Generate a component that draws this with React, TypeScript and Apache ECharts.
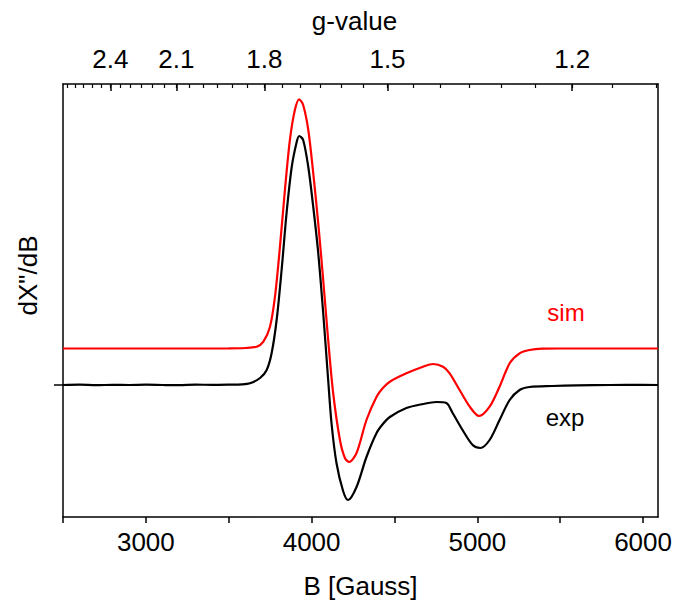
import React, { useEffect, useRef } from "react";
import * as echarts from "echarts";

// g = K / B  (K = h*nu/muB in Gauss)
const G_CONST = 6687;
const B_MIN = 2500;
const B_MAX = 6090;

const B_TICKS = [2500, 3000, 3500, 4000, 4500, 5000, 5500, 6000];
const B_LABELS = [3000, 4000, 5000, 6000];
const G_MAJOR = [2.4, 2.1, 1.8, 1.5, 1.2];
const G_MINOR = [2.65, 2.6, 2.55, 2.5, 2.45, 2.4, 2.35, 2.3, 2.25, 2.2, 2.15, 2.1, 2.05, 2.0, 1.95, 1.9, 1.85, 1.8, 1.75, 1.7, 1.65, 1.6, 1.55, 1.5, 1.45, 1.4, 1.35, 1.3, 1.25, 1.2, 1.15, 1.1];

const B_EXP = [2500, 2600, 2700, 2800, 2900, 3000, 3100, 3200, 3300, 3400, 3500, 3580, 3628, 3689, 3729, 3759, 3789, 3819, 3849, 3880, 3910, 3925, 3949, 3980, 4010, 4040, 4070, 4100, 4120, 4150, 4190, 4220, 4271, 4331, 4392, 4430, 4472, 4572, 4672, 4753, 4813, 4851, 4911, 4972, 5018, 5074, 5134, 5195, 5255, 5315, 5451, 5600, 5800, 6000, 6090];
const Y_EXP = [0, 0.3, -0.2, 0.2, 0, 0.3, 0, -0.2, 0.4, 0.1, 0.3, 0.6, 1.7, 7, 15, 32, 65, 115, 172, 218, 243, 249, 245, 218, 178, 132, 72, 5, -38, -78, -106, -115, -102, -72, -48, -39, -32, -23, -19, -17, -18, -28, -45, -60, -63, -55, -35, -15, -5, -2, -1, -0.4, 0, 0.2, 0];

const B_SIM = [2500, 3000, 3500, 3600, 3669, 3709, 3749, 3779, 3809, 3839, 3869, 3899, 3925, 3949, 3980, 4010, 4040, 4070, 4100, 4130, 4171, 4201, 4227, 4271, 4331, 4392, 4430, 4472, 4572, 4672, 4733, 4793, 4833, 4893, 4954, 5010, 5074, 5134, 5195, 5255, 5315, 5393, 5500, 6090];
const Y_SIM = [36.5, 36.5, 36.6, 37, 38.3, 43.3, 58.3, 88.3, 138.3, 195, 245, 275, 285.7, 280, 255, 211.7, 161.7, 105, 45, -8, -55, -73, -77, -68, -35, -11.7, -3, 3.3, 11.7, 18.3, 21, 18.3, 11.7, -5, -21.7, -31, -21.7, -1.7, 21.7, 31.7, 35, 36.3, 36.5, 36.5];

const FONT = "'Liberation Sans', Arial, sans-serif";

export default function App() {
  const ref = useRef<HTMLDivElement>(null);
  useEffect(() => {
    document.body.style.margin = "0";
    const chart = echarts.init(ref.current!, null, { renderer: "svg" });
    const axisLine = { show: true, onZero: false, lineStyle: { color: "#000", width: 1.5 } };
    const gMajorB = G_MAJOR.map((g) => G_CONST / g);
    const gMinorB = G_MINOR.map((g) => G_CONST / g);
    const tickOnlyAxis = (position: string, inside: boolean, length: number, values: number[], width: number) => ({
      type: "value",
      position,
      min: B_MIN,
      max: B_MAX,
      axisLine: { show: false, onZero: false },
      axisTick: { show: true, inside, length, customValues: values, lineStyle: { color: "#000", width } },
      axisLabel: { show: false },
      splitLine: { show: false },
    });
    chart.setOption({
      animation: false,
      backgroundColor: "#fff",
      grid: { left: 63, right: 18, top: 84, bottom: 87 },
      xAxis: [
        {
          type: "value",
          position: "bottom",
          min: B_MIN,
          max: B_MAX,
          axisLine,
          axisTick: { show: false },
          axisLabel: {
            show: true,
            customValues: B_LABELS,
            margin: 12,
            color: "#000",
            fontSize: 26,
            fontFamily: FONT,
            formatter: (v: number) => String(v),
          },
          splitLine: { show: false },
          name: "B [Gauss]",
          nameLocation: "middle",
          nameGap: 56,
          nameTextStyle: { color: "#000", fontSize: 26, fontFamily: FONT },
        },
        {
          type: "value",
          position: "top",
          min: B_MIN,
          max: B_MAX,
          axisLine,
          axisTick: { show: false },
          axisLabel: {
            show: true,
            customValues: gMajorB,
            margin: 12,
            color: "#000",
            fontSize: 26,
            fontFamily: FONT,
            formatter: (v: number) => (G_CONST / v).toFixed(1),
          },
          splitLine: { show: false },
          name: "g-value",
          nameLocation: "middle",
          nameGap: 50,
          nameTextStyle: { color: "#000", fontSize: 26, fontFamily: FONT, padding: [0, 12, 0, 0] },
        },
        tickOnlyAxis("top", true, 4, gMinorB, 1.2),
        tickOnlyAxis("top", true, 7, gMajorB, 1.5),
        tickOnlyAxis("bottom", false, 6, B_TICKS, 1.5),
      ],
      yAxis: [
        {
          type: "value",
          position: "left",
          min: -132,
          max: 301,
          axisLine,
          axisTick: { show: true, inside: false, length: 9, customValues: [0], lineStyle: { color: "#000", width: 1.5 } },
          axisLabel: { show: false },
          splitLine: { show: false },
          name: 'dX"/dB',
          nameLocation: "middle",
          nameRotate: 90,
          nameGap: 22,
          nameTextStyle: { color: "#000", fontSize: 26, fontFamily: FONT, padding: [0, 0, 0, 50] },
        },
        {
          type: "value",
          position: "right",
          min: -132,
          max: 301,
          axisLine,
          axisTick: { show: false },
          axisLabel: { show: false },
          splitLine: { show: false },
        },
      ],
      series: [
        {
          name: "exp",
          type: "line",
          xAxisIndex: 0,
          yAxisIndex: 0,
          data: B_EXP.map((b, i) => [b, Y_EXP[i]]),
          showSymbol: false,
          smooth: 0.3,
          lineStyle: { color: "#000", width: 2.2 },
          z: 3,
        },
        {
          name: "sim",
          type: "line",
          xAxisIndex: 0,
          yAxisIndex: 0,
          data: B_SIM.map((b, i) => [b, Y_SIM[i]]),
          showSymbol: false,
          smooth: 0.3,
          lineStyle: { color: "#ff0000", width: 2.2 },
          z: 4,
        },
      ],
      graphic: [
        { type: "text", x: 566, y: 312, style: { text: "sim", fill: "#ff0000", font: `24px ${FONT}`, textAlign: "center", textVerticalAlign: "middle" } },
        { type: "text", x: 565, y: 417, style: { text: "exp", fill: "#000", font: `24px ${FONT}`, textAlign: "center", textVerticalAlign: "middle" } },
      ],
    });
    return () => chart.dispose();
  }, []);
  return <div ref={ref} style={{ width: 676, height: 604 }} />;
}
